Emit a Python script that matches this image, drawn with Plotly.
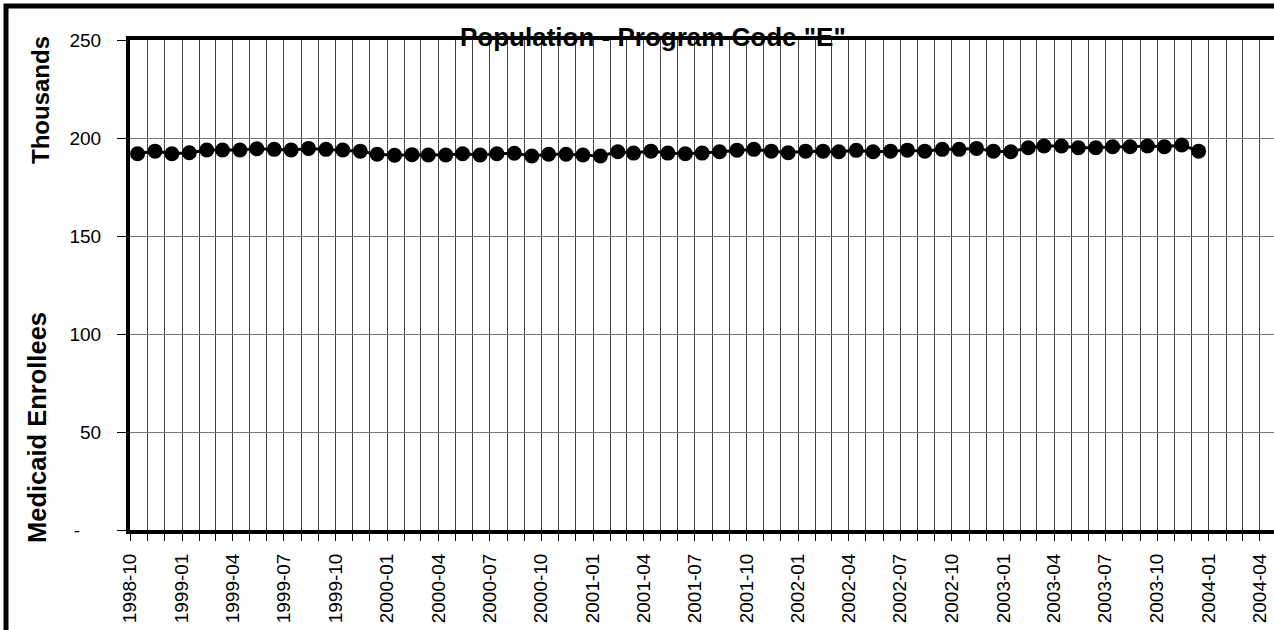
import pandas as pd
import plotly.graph_objects as go

# ---- data ----
start_month = "1998-10-01"
n_months = 63
enrollees_thousands = [
    192.0, 193.3, 192.0, 192.5, 193.9, 193.9, 193.9, 194.5, 194.2, 193.9,
    194.7, 194.2, 193.9, 193.3, 191.7, 191.2, 191.5, 191.3, 191.3, 192.0,
    191.3, 192.0, 192.2, 190.8, 191.7, 191.7, 191.3, 190.8, 193.0, 192.3,
    193.3, 192.3, 192.0, 192.3, 193.0, 193.8, 194.2, 193.3, 192.5, 193.3,
    193.3, 193.0, 193.7, 193.0, 193.3, 193.8, 193.3, 194.2, 194.2, 194.7,
    193.3, 193.0, 195.0, 195.9, 195.9, 195.0, 195.0, 195.5, 195.5, 195.9,
    195.5, 196.4, 193.3,
]
y_tickvals = [0, 50, 100, 150, 200, 250]
y_ticktext = ["-\u00a0\u00a0\u00a0\u00a0", "50", "100", "150", "200", "250"]
title_text = 'Population - Program Code "E"'
units_text = "Thousands"
ytitle_text = "Medicaid Enrollees"

dates = pd.date_range(start_month, periods=n_months, freq="MS") + pd.Timedelta(days=13)

W, H = 1274, 630
L, R, T, B = 130, 0, 40, 100
pw, ph = W - L - R, H - T - B

def px_x(p):
    return (p - L) / pw

def px_y(p):
    return (H - B - p) / ph

font_reg = "Liberation Sans, Arial, sans-serif"

fig = go.Figure()
fig.add_trace(go.Scatter(
    x=dates, y=enrollees_thousands, mode="lines+markers",
    line=dict(color="black", width=3),
    marker=dict(color="black", size=15),
    showlegend=False, cliponaxis=False,
))

fig.update_layout(
    width=W, height=H,
    margin=dict(l=L, r=R, t=T, b=B),
    paper_bgcolor="white", plot_bgcolor="white",
    xaxis=dict(
        type="date",
        range=["1998-09-30 12:00", "2004-04-26"],
        tick0="1998-10-01", dtick="M3", tickformat="%Y-%m",
        tickangle=-90,
        tickfont=dict(family=font_reg, size=19, color="black"),
        ticks="outside", ticklen=7, tickwidth=1, tickcolor="black",
        showgrid=True, gridcolor="#444", gridwidth=1,
        minor=dict(dtick="M1", tick0="1998-10-01", showgrid=True,
                   gridcolor="#444", gridwidth=1,
                   ticks="outside", ticklen=7, tickcolor="black"),
        showline=True, linecolor="black", linewidth=4, mirror=True,
        ticklabelstandoff=5,
        zeroline=False,
    ),
    yaxis=dict(
        range=[0, 250],
        tickvals=y_tickvals, ticktext=y_ticktext,
        tickfont=dict(family=font_reg, size=19, color="black"),
        ticks="outside", ticklen=9, tickwidth=1, tickcolor="black",
        showgrid=True, gridcolor="#777", gridwidth=1,
        showline=True, linecolor="black", linewidth=4,
        ticklabelstandoff=12,
        zeroline=False,
    ),
    annotations=[
        dict(text="<b>%s</b>" % title_text, xref="paper", yref="paper",
             x=px_x(653), y=px_y(37), xanchor="center", yanchor="middle",
             showarrow=False, font=dict(family=font_reg, size=26, color="black")),
        dict(text="<b>%s</b>" % units_text, xref="paper", yref="paper",
             x=px_x(40), y=px_y(100), xanchor="center", yanchor="middle",
             textangle=-90, showarrow=False,
             font=dict(family=font_reg, size=24, color="black")),
        dict(text="<b>%s</b>" % ytitle_text, xref="paper", yref="paper",
             x=px_x(37), y=px_y(428), xanchor="center", yanchor="middle",
             textangle=-90, showarrow=False,
             font=dict(family=font_reg, size=25.5, color="black")),
    ],
    shapes=[
        dict(type="rect", xref="paper", yref="paper",
             x0=px_x(6), x1=px_x(1400), y0=px_y(800), y1=px_y(6),
             line=dict(color="black", width=5), layer="above"),
    ],
)

fig.write_html(
    "out.html",
    config={"displayModeBar": False},
    post_script="document.body.style.margin='0';document.body.style.overflow='hidden';",
)
